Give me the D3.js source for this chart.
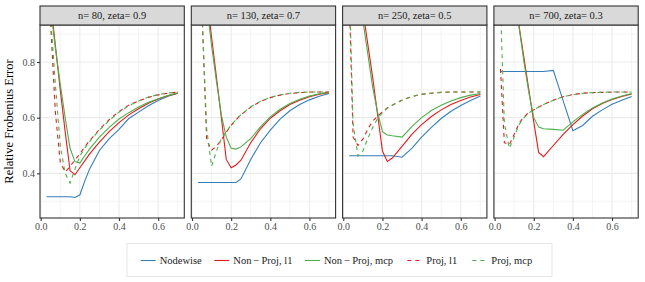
<!DOCTYPE html>
<html>
<head>
<meta charset="utf-8">
<script src="https://cdn.jsdelivr.net/npm/d3@7"></script>
<style>
  body { margin: 0; background: #fff; }
</style>
</head>
<body>
<svg id="chart" width="645" height="282"></svg>
<script>
// tuning parameter grid (x axis)
const lambda = [0.03, 0.05, 0.075, 0.1, 0.125, 0.15, 0.175, 0.2, 0.225, 0.25,
    0.3, 0.35, 0.4, 0.45, 0.5, 0.55, 0.6, 0.65, 0.7];

const panelLabels = ["n= 80, zeta= 0.9", "n= 130, zeta= 0.7", "n= 250, zeta= 0.5", "n= 700, zeta= 0.3"];

const methods = ["Nodewise", "Non\u2009\u2212\u2009Proj, l1", "Non\u2009\u2212\u2009Proj, mcp", "Proj, l1", "Proj, mcp"];

const xTicks = [0.0, 0.2, 0.4, 0.6];
const yTicks = [0.4, 0.6, 0.8];

// one row per panel
const nodewise = [
    [0.316, 0.316, 0.316, 0.316, 0.316, 0.316, 0.313, 0.322, 0.372, 0.416, 0.482, 0.525, 0.558, 0.597, 0.62, 0.643, 0.662, 0.677, 0.688],
    [0.367, 0.367, 0.367, 0.367, 0.367, 0.367, 0.367, 0.367, 0.367, 0.38, 0.45, 0.51, 0.555, 0.595, 0.625, 0.647, 0.664, 0.677, 0.687],
    [0.463, 0.463, 0.463, 0.463, 0.463, 0.463, 0.463, 0.463, 0.463, 0.463, 0.458, 0.49, 0.53, 0.565, 0.597, 0.623, 0.644, 0.662, 0.678],
    [0.766, 0.766, 0.766, 0.766, 0.766, 0.766, 0.766, 0.766, 0.766, 0.766, 0.77, 0.661, 0.553, 0.572, 0.605, 0.628, 0.648, 0.663, 0.676]
];
const nonProjL1 = [
    [1.3, 1.02, 0.86, 0.70, 0.55, 0.41, 0.395, 0.42, 0.445, 0.47, 0.512, 0.55, 0.582, 0.61, 0.632, 0.652, 0.667, 0.679, 0.688],
    [1.4, 1.2, 1.03, 0.89, 0.745, 0.6, 0.45, 0.42, 0.43, 0.447, 0.51, 0.56, 0.598, 0.625, 0.647, 0.663, 0.675, 0.684, 0.69],
    [1.6, 1.35, 1.15, 0.985, 0.865, 0.745, 0.612, 0.48, 0.443, 0.455, 0.497, 0.54, 0.575, 0.604, 0.628, 0.647, 0.662, 0.674, 0.683],
    [1.4, 1.3, 1.15, 1.04, 0.93, 0.815, 0.70, 0.585, 0.475, 0.46, 0.5, 0.54, 0.575, 0.606, 0.632, 0.651, 0.665, 0.676, 0.685]
];
const nonProjMcp = [
    [1.3, 1.0, 0.85, 0.72, 0.6, 0.49, 0.442, 0.437, 0.463, 0.488, 0.53, 0.565, 0.595, 0.618, 0.638, 0.655, 0.668, 0.68, 0.689],
    [1.4, 1.2, 1.01, 0.86, 0.73, 0.61, 0.53, 0.49, 0.487, 0.495, 0.525, 0.567, 0.603, 0.63, 0.651, 0.666, 0.678, 0.686, 0.691],
    [1.6, 1.3, 1.1, 0.95, 0.83, 0.71, 0.62, 0.55, 0.538, 0.535, 0.53, 0.568, 0.6, 0.626, 0.645, 0.66, 0.672, 0.681, 0.687],
    [1.4, 1.3, 1.15, 1.04, 0.925, 0.8, 0.69, 0.6, 0.566, 0.56, 0.558, 0.555, 0.585, 0.612, 0.635, 0.653, 0.667, 0.678, 0.687]
];
const projL1 = [
    [1.4, 0.95, 0.62, 0.44, 0.405, 0.425, 0.448, 0.47, 0.495, 0.518, 0.558, 0.593, 0.622, 0.645, 0.66, 0.673, 0.682, 0.688, 0.692],
    [1.6, 1.0, 0.52, 0.483, 0.497, 0.52, 0.548, 0.572, 0.593, 0.61, 0.638, 0.658, 0.672, 0.681, 0.687, 0.69, 0.692, 0.692, 0.692],
    [1.05, 0.53, 0.5, 0.523, 0.558, 0.588, 0.605, 0.622, 0.635, 0.645, 0.663, 0.676, 0.684, 0.688, 0.691, 0.692, 0.692, 0.692, 0.692],
    [0.775, 0.51, 0.503, 0.54, 0.58, 0.603, 0.618, 0.628, 0.638, 0.647, 0.663, 0.675, 0.683, 0.688, 0.69, 0.691, 0.692, 0.692, 0.692]
];
const projMcp = [
    [1.4, 0.97, 0.72, 0.5, 0.4, 0.365, 0.415, 0.462, 0.49, 0.515, 0.555, 0.59, 0.62, 0.643, 0.66, 0.674, 0.683, 0.689, 0.692],
    [1.6, 1.0, 0.56, 0.425, 0.48, 0.525, 0.55, 0.573, 0.594, 0.611, 0.639, 0.659, 0.673, 0.682, 0.688, 0.691, 0.692, 0.692, 0.692],
    [1.1, 0.58, 0.462, 0.48, 0.525, 0.565, 0.597, 0.618, 0.634, 0.645, 0.663, 0.676, 0.684, 0.688, 0.691, 0.692, 0.692, 0.692, 0.692],
    [1.0, 0.58, 0.49, 0.53, 0.575, 0.6, 0.617, 0.628, 0.638, 0.647, 0.663, 0.675, 0.683, 0.688, 0.69, 0.691, 0.692, 0.692, 0.692]
];

const seriesData = [nodewise, nonProjL1, nonProjMcp, projL1, projMcp];
const colors = ["#377EB8", "#E41A1C", "#4DAF4A", "#E41A1C", "#4DAF4A"];
const dashes = [null, null, null, "4,4", "4,4"];

const serif = "'Liberation Serif', 'Times New Roman', serif";

const svg = d3.select("#chart").attr("font-family", serif);

// layout
const panelTop = 25, panelBottom = 218, stripTop = 6;
const panelLeft0 = 40, panelW = 144.3, panelGap = 7;

const y = d3.scaleLinear().domain([0.2395, 0.933]).range([panelBottom, panelTop]);

panelLabels.forEach((label, p) => {
    const left = panelLeft0 + p * (panelW + panelGap);
    const x = d3.scaleLinear().domain([-0.0035, 0.7335]).range([left, left + panelW]);

    const g = svg.append("g");

    // grid
    const minorX = [0.1, 0.3, 0.5, 0.7], minorY = [0.3, 0.5, 0.7, 0.9];
    g.selectAll(".minx").data(minorX).enter().append("line")
        .attr("x1", d => x(d)).attr("x2", d => x(d))
        .attr("y1", panelTop).attr("y2", panelBottom)
        .attr("stroke", "#ebebeb").attr("stroke-width", 0.6);
    g.selectAll(".miny").data(minorY).enter().append("line")
        .attr("x1", left).attr("x2", left + panelW)
        .attr("y1", d => y(d)).attr("y2", d => y(d))
        .attr("stroke", "#ebebeb").attr("stroke-width", 0.6);
    g.selectAll(".majx").data(xTicks).enter().append("line")
        .attr("x1", d => x(d)).attr("x2", d => x(d))
        .attr("y1", panelTop).attr("y2", panelBottom)
        .attr("stroke", "#ebebeb").attr("stroke-width", 1.1);
    g.selectAll(".majy").data(yTicks).enter().append("line")
        .attr("x1", left).attr("x2", left + panelW)
        .attr("y1", d => y(d)).attr("y2", d => y(d))
        .attr("stroke", "#ebebeb").attr("stroke-width", 1.1);

    // clip for lines
    svg.append("clipPath").attr("id", `clip${p}`)
        .append("rect")
        .attr("x", left).attr("y", panelTop)
        .attr("width", panelW).attr("height", panelBottom - panelTop);

    const line = d3.line()
        .x((d, i) => x(lambda[i]))
        .y(d => y(d));

    const lines = g.append("g").attr("clip-path", `url(#clip${p})`);
    seriesData.forEach((s, k) => {
        lines.append("path")
            .datum(s[p])
            .attr("d", line)
            .attr("fill", "none")
            .attr("stroke", colors[k])
            .attr("stroke-width", 1.1)
            .attr("stroke-dasharray", dashes[k]);
    });

    // panel border
    g.append("rect")
        .attr("x", left).attr("y", panelTop)
        .attr("width", panelW).attr("height", panelBottom - panelTop)
        .attr("fill", "none").attr("stroke", "#333333").attr("stroke-width", 1.1);

    // strip
    g.append("rect")
        .attr("x", left).attr("y", stripTop)
        .attr("width", panelW).attr("height", panelTop - stripTop)
        .attr("fill", "#d9d9d9").attr("stroke", "#333333").attr("stroke-width", 1.1);
    g.append("text")
        .attr("x", left + panelW / 2)
        .attr("y", (stripTop + panelTop) / 2)
        .attr("dy", "0.35em")
        .attr("text-anchor", "middle")
        .attr("font-family", serif)
        .attr("font-size", 10.5)
        .attr("fill", "#1a1a1a")
        .text(label);

    // x axis
    const xAxis = g.append("g")
        .attr("transform", `translate(0,${panelBottom})`)
        .call(d3.axisBottom(x).tickValues(xTicks).tickFormat(d3.format(".1f")).tickSize(3).tickPadding(2))
        .attr("font-family", serif);
    xAxis.select(".domain").remove();
    xAxis.selectAll("line").attr("stroke", "#333333").attr("stroke-width", 1.1);
    xAxis.selectAll("text").attr("font-size", 10).attr("fill", "#4d4d4d");

    if (p === 0) {
        const yAxis = g.append("g")
            .attr("transform", `translate(${left},0)`)
            .call(d3.axisLeft(y).tickValues(yTicks).tickFormat(d3.format(".1f")).tickSize(3).tickPadding(2))
            .attr("font-family", serif);
        yAxis.select(".domain").remove();
        yAxis.selectAll("line").attr("stroke", "#333333").attr("stroke-width", 1.1);
        yAxis.selectAll("text").attr("font-size", 10).attr("fill", "#4d4d4d");
    }
});

// y axis title
svg.append("text")
    .attr("transform", `translate(13,${(panelTop + panelBottom) / 2}) rotate(-90)`)
    .attr("text-anchor", "middle")
    .attr("font-family", serif)
    .attr("font-size", 12.5)
    .attr("fill", "#000")
    .text("Relative Frobenius Error");

// legend
const legend = svg.append("g");
legend.append("rect")
    .attr("x", 127).attr("y", 243.5)
    .attr("width", 425).attr("height", 33)
    .attr("fill", "#fff").attr("stroke", "#e5e5e5").attr("stroke-width", 1);

const keyX = [140.7, 214.3, 305, 407.3, 472.3];
methods.forEach((m, k) => {
    const item = legend.append("g").attr("transform", `translate(${keyX[k]},260.5)`);
    item.append("line")
        .attr("x1", 0).attr("x2", 15)
        .attr("stroke", colors[k])
        .attr("stroke-width", 1.1)
        .attr("stroke-dasharray", dashes[k]);
    item.append("text")
        .attr("x", 19)
        .attr("dy", "0.35em")
        .attr("font-family", serif)
        .attr("font-size", 10.5)
        .attr("fill", "#1a1a1a")
        .text(m);
});
</script>
</body>
</html>
